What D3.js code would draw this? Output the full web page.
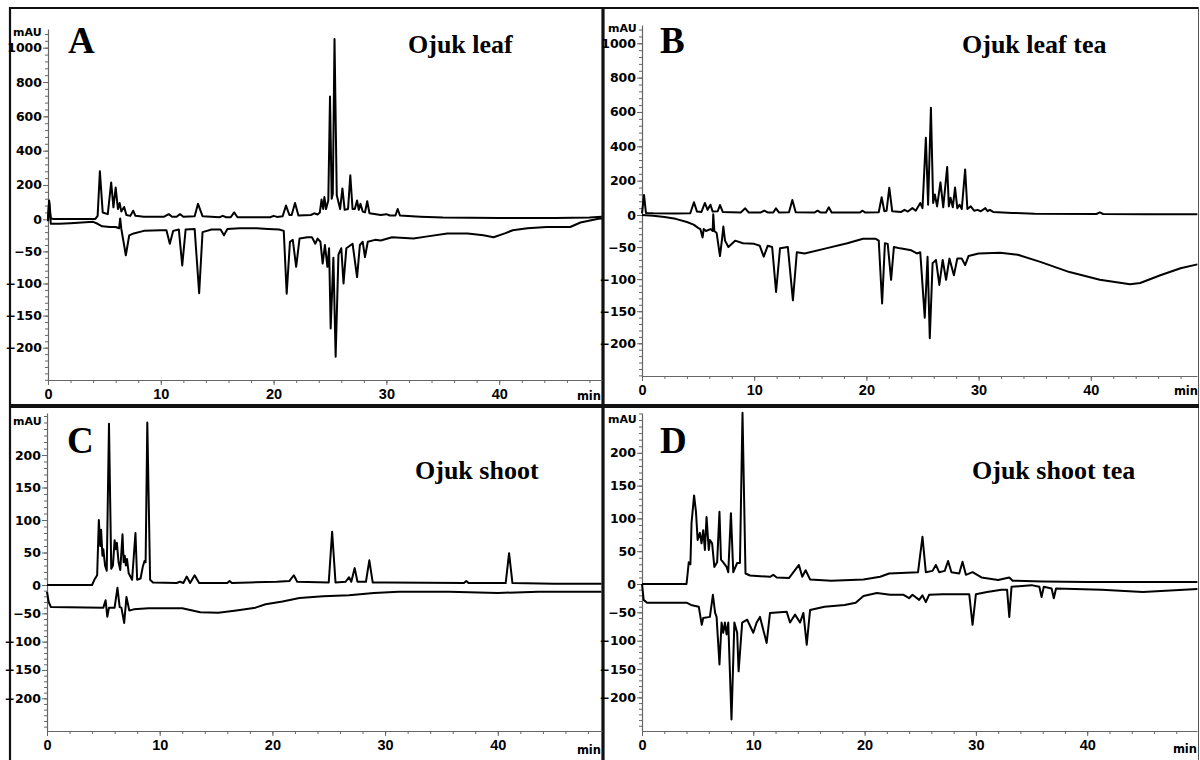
<!DOCTYPE html>
<html><head><meta charset="utf-8">
<script src="https://cdn.jsdelivr.net/npm/d3@7"></script>
<style>body{margin:0;background:#fff}svg{display:block}</style>
</head><body><svg id="c" width="1200" height="760"></svg>
<script>
// ---------------- data ----------------
const panelLetters = ["A", "B", "C", "D"];
const panelTitles = ["Ojuk leaf", "Ojuk leaf tea", "Ojuk shoot", "Ojuk shoot tea"];
const xUnit = "min";
const yUnit = "mAU";
const xTickValues = [0, 10, 20, 30, 40];
const yTicksLeaf = [1000, 800, 600, 400, 200, 0, -50, -100, -150, -200];
const yTicksShoot = [200, 150, 100, 50, 0, -50, -100, -150, -200];

// [retention time (min), absorbance (mAU)]
const leafUpper = [[0,5],[0.1,110],[0.25,5],[0.5,2],[4.2,2],[4.4,20],[4.6,280],[4.85,40],[5.3,30],[5.6,215],[5.8,70],[6.0,185],[6.2,60],[6.35,95],[6.5,45],[6.75,72],[6.95,25],[7.3,20],[7.55,50],[7.75,20],[8.5,15],[10.3,15],[10.7,30],[11.0,15],[11.4,15],[11.7,30],[12.0,15],[13.0,18],[13.3,90],[13.7,18],[15.2,12],[15.5,20],[15.8,12],[16.2,12],[16.5,40],[16.8,12],[19.7,12],[20.0,20],[20.3,14],[20.8,18],[21.1,80],[21.4,25],[21.6,25],[21.9,95],[22.2,22],[23.3,25],[23.6,35],[23.9,28],[24.1,40],[24.25,115],[24.4,60],[24.5,130],[24.65,60],[24.85,110],[25.0,715],[25.15,120],[25.25,150],[25.4,1050],[25.6,140],[25.9,60],[26.1,180],[26.3,55],[26.6,60],[26.8,257],[27.0,60],[27.2,60],[27.4,110],[27.55,55],[27.7,90],[27.9,45],[28.1,40],[28.3,105],[28.5,35],[29.5,25],[30.0,30],[30.3,22],[30.8,22],[31.0,60],[31.2,22],[33,15],[35,10],[40,8],[45,8],[48,10],[49.1,15]];
const leafLower = [[0,-3],[0.1,100],[0.25,-7],[1,-7],[2,-6],[3,-5],[4,-4],[4.4,-7],[4.8,-11],[5.5,-12],[6.0,-12],[6.3,-14],[6.4,5],[6.5,-15],[6.9,-56],[7.2,-25],[7.6,-22],[8.5,-18],[10.0,-17],[10.5,-17],[10.8,-38],[11.1,-18],[11.6,-16],[11.9,-72],[12.2,-16],[13.0,-15],[13.4,-115],[13.7,-20],[14.5,-16],[15.3,-16],[15.6,-25],[15.9,-15],[17,-14],[18.5,-14],[19.5,-15],[20.5,-16],[20.9,-18],[21.16,-116],[21.45,-35],[21.7,-32],[22.0,-74],[22.3,-30],[23.0,-28],[23.4,-28],[23.7,-38],[23.9,-30],[24.15,-35],[24.35,-69],[24.55,-40],[24.77,-74],[24.92,-45],[25.06,-170],[25.3,-60],[25.5,-214],[25.75,-55],[26.0,-45],[26.2,-100],[26.45,-45],[27.0,-38],[27.4,-90],[27.65,-40],[27.9,-35],[28.1,-59],[28.35,-35],[29,-32],[29.5,-33],[30.5,-28],[32.4,-30],[33.5,-27],[35.4,-22],[37.2,-22],[38.6,-25],[39.5,-28],[40.5,-22],[41.2,-17],[42.5,-14],[44.2,-12],[46.3,-12],[47.2,-5],[48.8,3],[49.1,4]];

const leafTeaUpper = [[0,10],[0.18,117],[0.35,12],[1,10],[3,9],[4.3,10],[4.63,74],[4.9,20],[5.3,18],[5.6,70],[5.85,30],[6.1,60],[6.3,20],[6.75,22],[6.95,58],[7.2,18],[8.8,15],[9.2,39],[9.5,15],[10.6,15],[10.9,25],[11.2,15],[11.7,15],[11.94,39],[12.2,15],[13.1,16],[13.4,87],[13.7,16],[15.4,15],[15.65,25],[15.9,15],[16.4,15],[16.65,45],[16.9,15],[19.4,14],[19.66,25],[19.9,14],[21.1,16],[21.36,103],[21.6,22],[21.8,25],[22.04,159],[22.3,22],[23.1,18],[23.4,30],[23.7,20],[24.1,40],[24.4,25],[24.8,70],[25.0,40],[25.3,450],[25.5,60],[25.75,625],[25.95,70],[26.1,120],[26.3,50],[26.6,190],[26.85,45],[27.2,280],[27.35,50],[27.5,100],[27.7,45],[27.9,160],[28.1,40],[28.3,60],[28.5,35],[28.8,265],[29.0,35],[29.3,50],[29.6,25],[29.9,30],[30.2,22],[30.6,40],[30.8,22],[31.0,30],[31.3,18],[33,12],[35,8],[40.5,6],[40.8,15],[41.1,6],[45,5],[49.5,5]];
const leafTeaLower = [[0,0],[1,-1],[2,-3],[3,-6],[4,-11],[4.6,-15],[5.0,-20],[5.2,-22],[5.4,-35],[5.5,-22],[5.7,-25],[6.1,-22],[6.3,-25],[6.35,5],[6.45,-25],[6.65,-28],[6.95,-64],[7.15,-35],[7.25,-18],[7.4,-40],[7.7,-50],[8.3,-40],[9.0,-44],[10.0,-45],[10.5,-48],[10.85,-65],[11.2,-48],[11.6,-50],[11.95,-120],[12.3,-52],[13.0,-50],[13.45,-133],[13.8,-58],[14.5,-60],[16.4,-52],[18.3,-44],[19.7,-37],[20.8,-37],[21.1,-40],[21.4,-138],[21.65,-44],[21.9,-45],[22.2,-101],[22.45,-50],[23,-52],[24,-55],[24.5,-60],[24.8,-58],[25.2,-160],[25.45,-65],[25.65,-192],[25.9,-75],[26.2,-70],[26.5,-109],[26.8,-70],[27.1,-101],[27.4,-68],[27.8,-94],[28.1,-68],[28.5,-68],[28.8,-78],[29.1,-64],[30,-60],[31.9,-59],[33.5,-62],[35.5,-73],[38.1,-89],[40.8,-101],[43.5,-108],[44.4,-106],[46.2,-94],[48,-83],[49.5,-77]];

const shootUpper = [[0,0],[4.0,0],[4.2,8],[4.45,15],[4.6,100],[4.72,60],[4.8,85],[4.92,45],[5.0,55],[5.15,30],[5.3,22],[5.5,248],[5.7,25],[5.85,30],[6.0,69],[6.1,55],[6.2,65],[6.35,35],[6.5,23],[6.7,78],[6.8,35],[6.9,45],[7.0,30],[7.1,40],[7.25,18],[7.55,8],[7.85,80],[8.0,8],[8.3,10],[8.5,28],[8.65,37],[8.75,35],[8.9,250],[9.15,8],[9.4,4],[11.5,3],[11.8,5],[12.1,3],[12.4,13],[12.7,3],[13.1,15],[13.5,3],[16.0,3],[16.2,6],[16.4,3],[18,4],[20.4,5],[21.5,6],[21.9,15],[22.2,5],[25.0,4],[25.3,82],[25.6,4],[26.5,5],[26.8,12],[27.0,5],[27.3,26],[27.55,5],[28.3,5],[28.6,38],[28.9,4],[30,4],[37,3],[37.2,6],[37.4,3],[40.7,3],[41.0,49],[41.3,3],[45,2],[49.2,2]];
const shootLower = [[0,-12],[0.15,-30],[0.35,-39],[5.0,-40],[5.2,-27],[5.35,-56],[5.5,-40],[6.0,-40],[6.25,-5],[6.45,-39],[6.6,-40],[6.85,-67],[7.05,-21],[7.3,-45],[7.7,-43],[9,-41],[12,-41],[13.6,-48],[15.2,-49],[16.8,-45],[18.5,-40],[19.4,-34],[20.9,-29],[22.4,-23],[24.5,-20],[26.8,-18],[29,-14],[31.2,-12],[35.7,-12],[40,-14],[43.6,-12],[49.2,-12]];

const shootTeaUpper = [[0,0],[4.0,0],[4.1,16],[4.2,33],[4.35,30],[4.45,93],[4.68,135],[4.85,110],[5.0,67],[5.2,78],[5.35,62],[5.5,82],[5.65,52],[5.8,102],[6.0,52],[6.1,67],[6.3,62],[6.5,26],[6.75,33],[6.96,110],[7.1,37],[7.3,33],[7.6,26],[7.75,18],[7.99,108],[8.2,18],[8.55,32],[8.8,32],[9.03,261],[9.3,16],[9.7,13],[11.5,11],[11.8,14],[12.1,10],[13.2,9],[14.1,29],[14.4,11],[14.7,21],[15.1,7],[17,5],[19.9,7],[21.4,11],[22.2,16],[24.8,18],[25.2,72],[25.5,18],[26.1,20],[26.4,29],[26.7,18],[27.2,20],[27.5,35],[27.8,18],[28.5,16],[28.8,34],[29.1,14],[29.7,18],[30.5,10],[32,6],[33,10],[33.3,5],[36,4],[40,3],[49.9,3]];
const shootTeaLower = [[0,0],[0.15,-28],[0.45,-33],[4.0,-33],[4.4,-37],[5.1,-40],[5.37,-72],[5.5,-60],[6.1,-58],[6.37,-19],[6.57,-51],[6.7,-58],[6.96,-142],[7.15,-68],[7.3,-86],[7.45,-68],[7.6,-89],[7.75,-68],[8.04,-239],[8.3,-68],[8.55,-86],[8.68,-154],[9.0,-68],[9.45,-63],[10.0,-86],[10.3,-68],[10.6,-58],[11.2,-104],[11.5,-51],[13.0,-49],[13.3,-68],[13.75,-54],[14.2,-68],[14.5,-51],[14.8,-107],[15.1,-46],[16.4,-40],[18.2,-37],[19.2,-33],[19.9,-21],[21.1,-16],[22.3,-19],[23.5,-19],[24.0,-25],[24.3,-19],[24.9,-28],[25.2,-20],[25.5,-32],[25.8,-19],[27,-18],[29.4,-18],[29.7,-72],[30.0,-18],[31,-14],[32.3,-10],[32.8,-10],[33.0,-58],[33.2,-5],[35,-2],[35.7,-5],[35.9,-23],[36.1,-5],[36.8,-8],[37.0,-25],[37.2,-8],[41.3,-10],[45,-14],[49.9,-9]];

// ---------------- layout ----------------
const panels = [
  {letter: panelLetters[0], title: panelTitles[0], upper: leafUpper, lower: leafLower, ticks: yTicksLeaf, posStep: 40, negStep: 10,
   x0: 48, x1: 602, xk: 11.28, axisY: 380, zeroY: 219.3, posK: 0.1716, negK: 0.642, topY: 29,
   letterPos: [68, 53], titlePos: [408, 52.5], unitY: 36, unitX: 13, minPos: [601, 400]},
  {letter: panelLetters[1], title: panelTitles[1], upper: leafTeaUpper, lower: leafTeaLower, ticks: yTicksLeaf, posStep: 40, negStep: 10,
   x0: 642, x1: 1197, xk: 11.22, axisY: 376, zeroY: 215, posK: 0.1717, negK: 0.6415, topY: 25,
   letterPos: [660, 53], titlePos: [962, 52.5], unitY: 32, unitX: 608, minPos: [1198, 395]},
  {letter: panelLetters[2], title: panelTitles[2], upper: shootUpper, lower: shootLower, ticks: yTicksShoot, posStep: 10, negStep: 10,
   x0: 47, x1: 602, xk: 11.27, axisY: 731, zeroY: 585, posK: 0.65, negK: 0.5665, topY: 413,
   letterPos: [67, 453], titlePos: [415, 479], unitY: 425, unitX: 13, minPos: [601, 754]},
  {letter: panelLetters[3], title: panelTitles[3], upper: shootTeaUpper, lower: shootTeaLower, ticks: yTicksShoot, posStep: 10, negStep: 10,
   x0: 642, x1: 1197, xk: 11.13, axisY: 731, zeroY: 584, posK: 0.656, negK: 0.567, topY: 413,
   letterPos: [660, 453], titlePos: [972, 479], unitY: 423, unitX: 608, minPos: [1197, 753]}
];

const svg = d3.select("#c");
svg.append("rect").attr("width", 1200).attr("height", 760).attr("fill", "#fff");

// frame
const frame = svg.append("g").attr("stroke", "#111").attr("fill", "none");
frame.append("line").attr("x1", 9).attr("x2", 1199).attr("y1", 8).attr("y2", 8).attr("stroke-width", 2);
frame.append("line").attr("x1", 10).attr("x2", 10).attr("y1", 7).attr("y2", 760).attr("stroke-width", 2.2);
frame.append("line").attr("x1", 1198.5).attr("x2", 1198.5).attr("y1", 7).attr("y2", 760).attr("stroke-width", 1).attr("stroke", "#555");
frame.append("line").attr("x1", 603).attr("x2", 603).attr("y1", 7).attr("y2", 760).attr("stroke-width", 3.2);
frame.append("line").attr("x1", 9).attr("x2", 1199).attr("y1", 406).attr("y2", 406).attr("stroke-width", 4);

panels.forEach(p => {
  const g = svg.append("g");
  const xMax = (p.x1 - p.x0) / p.xk;
  const x = d3.scaleLinear().domain([0, xMax]).range([p.x0, p.x1]);
  const yMin = -(p.axisY - p.zeroY) / p.negK;
  const yMax = (p.zeroY - p.topY) / p.posK;
  const y = d3.scaleLinear().domain([yMin, 0, yMax]).range([p.axisY, p.zeroY, p.topY]);

  // minor ticks
  const minorY = d3.range(p.posStep, yMax, p.posStep).concat(d3.range(-p.negStep, yMin, -p.negStep));
  const minorX = d3.range(0, xMax, 2);

  const axStyle = sel => { sel.select(".domain").attr("stroke", "#666").attr("stroke-width", 1.2);
                           sel.selectAll(".tick line").attr("stroke", "#666"); };

  g.append("g").attr("transform", `translate(${p.x0},0)`)
    .call(d3.axisLeft(y).tickValues(minorY).tickSize(3).tickFormat("").tickSizeOuter(0))
    .call(axStyle).call(s => s.select(".domain").remove());
  g.append("g").attr("transform", `translate(0,${p.axisY})`)
    .call(d3.axisBottom(x).tickValues(minorX).tickSize(3).tickFormat("").tickSizeOuter(0))
    .call(axStyle).call(s => s.select(".domain").remove());

  const yAxis = g.append("g").attr("transform", `translate(${p.x0},0)`)
    .call(d3.axisLeft(y).tickValues(p.ticks).tickSize(5).tickPadding(1).tickSizeOuter(0).tickFormat(d3.format("d")))
    .call(axStyle);
  yAxis.selectAll("text").attr("font-family", "DejaVu Sans").attr("font-weight", "bold")
    .attr("font-size", 12.5).attr("fill", "#000");

  const xAxis = g.append("g").attr("transform", `translate(0,${p.axisY})`)
    .call(d3.axisBottom(x).tickValues(xTickValues).tickSize(5).tickPadding(4).tickSizeOuter(0))
    .call(axStyle);
  xAxis.selectAll("text").attr("font-family", "Liberation Sans, Arial").attr("font-weight", "bold")
    .attr("font-size", 14.5).attr("fill", "#000");

  // unit labels
  g.append("text").attr("x", p.unitX).attr("y", p.unitY).text(yUnit)
    .attr("font-family", "DejaVu Sans").attr("font-weight", "bold").attr("font-size", 11).attr("fill", "#000");
  g.append("text").attr("x", p.minPos[0]).attr("y", p.minPos[1]).attr("text-anchor", "end").text(xUnit)
    .attr("font-family", "DejaVu Sans").attr("font-weight", "bold").attr("font-size", 11.5).attr("fill", "#000");

  // traces
  const line = d3.line().x(d => x(d[0])).y(d => y(d[1]));
  [p.lower, p.upper].forEach(series => {
    g.append("path").datum(series).attr("d", line).attr("fill", "none")
      .attr("stroke", "#000").attr("stroke-width", 2).attr("stroke-linejoin", "round");
  });

  // panel letter and title
  g.append("text").attr("x", p.letterPos[0]).attr("y", p.letterPos[1]).text(p.letter)
    .attr("font-family", "Liberation Serif, Times New Roman").attr("font-weight", "bold").attr("font-size", 37).attr("fill", "#000");
  g.append("text").attr("x", p.titlePos[0]).attr("y", p.titlePos[1]).text(p.title)
    .attr("font-family", "Liberation Serif, Times New Roman").attr("font-weight", "bold").attr("font-size", 26).attr("fill", "#000");
});
</script></body></html>
